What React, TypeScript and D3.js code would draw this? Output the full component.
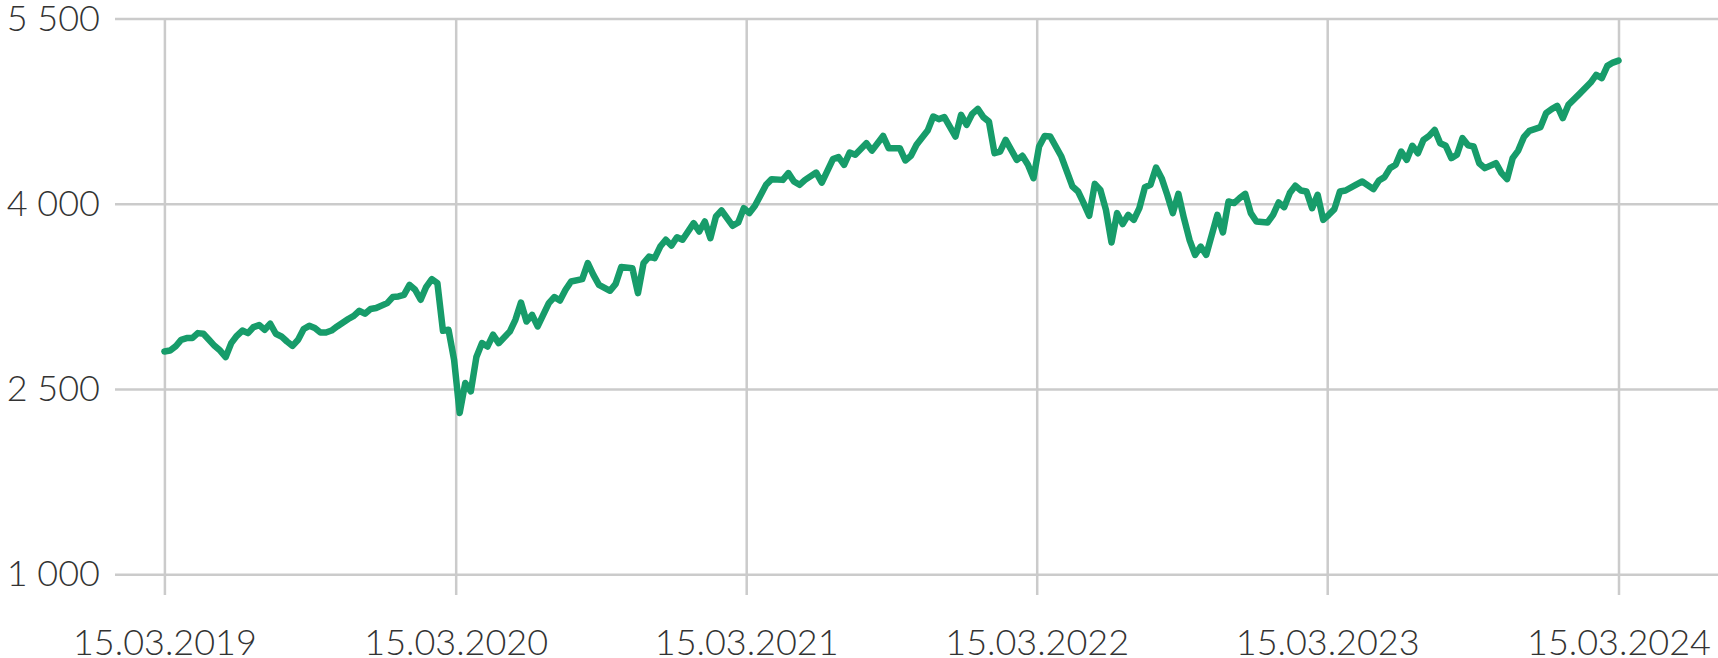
import { useEffect, useRef } from "react";
import * as d3 from "d3";

// Weekly closes. weekNo = weeks after 15.03.2019.
const weekNo = [
  0, 1, 2, 3, 4, 5, 6, 7, 8, 9, 10, 11, 12, 13, 14, 15, 16, 17, 18, 19, 20,
  21, 22, 23, 24, 25, 26, 27, 28, 29, 30, 31, 33, 34, 35, 36, 37, 38, 40, 41,
  42, 43, 44, 45, 46, 47, 48, 49, 50, 51, 52, 53, 54, 55, 56, 57, 58, 59, 60,
  62, 63, 64, 65, 66, 67, 69, 70, 71, 72, 73, 75, 76, 77, 78, 80, 81, 82, 84,
  85, 86, 87, 88, 89, 90, 91, 92, 93, 95, 96, 97, 98, 99, 100, 102, 103, 104,
  105, 106, 108, 109, 111, 112, 113, 114, 115, 117, 118, 120, 121, 122, 123,
  124, 126, 127, 129, 130, 132, 133, 134, 135, 137, 138, 139, 140, 142, 143,
  144, 145, 146, 147, 148, 149, 150, 151, 152, 153, 154, 155, 156, 157, 158,
  159, 161, 162, 163, 164, 165, 166, 167, 168, 169, 170, 171, 172, 173, 174,
  175, 176, 177, 178, 179, 180, 181, 182, 183, 184, 185, 186, 187, 189, 190,
  191, 192, 193, 194, 195, 196, 198, 199, 200, 201, 202, 203, 204, 205, 206,
  207, 208, 209, 210, 211, 212, 214, 215, 217, 218, 219, 220, 221, 222, 223,
  224, 225, 226, 227, 228, 229, 230, 231, 232, 233, 234, 235, 236, 237, 239,
  240, 241, 242, 243, 244, 245, 247, 248, 249, 250, 251, 252, 254, 256, 257,
  258, 259, 260, 261,
];

const closes = [
  2804, 2812, 2845, 2899, 2913, 2913, 2953, 2948, 2899, 2850, 2812, 2759, 2872,
  2931, 2974, 2953, 3002, 3018, 2980, 3029, 2948, 2926, 2885, 2850, 2899, 2986,
  3012, 2994, 2958, 2958, 2974, 3007, 3067, 3093, 3134, 3110, 3148, 3156, 3196,
  3245, 3250, 3263, 3344, 3304, 3223, 3328, 3390, 3358, 2972, 2980, 2737, 2306,
  2549, 2481, 2760, 2872, 2845, 2940, 2872, 2966, 3061, 3201, 3047, 3101, 3007,
  3196, 3245, 3217, 3304, 3371, 3390, 3520, 3425, 3344, 3296, 3352, 3488, 3479,
  3277, 3520, 3573, 3560, 3654, 3709, 3662, 3729, 3709, 3844, 3776, 3857, 3722,
  3897, 3946, 3822, 3849, 3965, 3925, 3984, 4154, 4200, 4194, 4249, 4181, 4154,
  4194, 4253, 4172, 4362, 4378, 4316, 4415, 4397, 4491, 4431, 4550, 4451, 4451,
  4351, 4389, 4478, 4593, 4707, 4686, 4702, 4545, 4720, 4640, 4729, 4769, 4702,
  4666, 4410, 4423, 4518, 4437, 4356, 4389, 4316, 4208, 4464, 4550, 4545, 4383,
  4261, 4140, 4100, 4006, 3903, 4162, 4113, 3951, 3687, 3925, 3836, 3911, 3870,
  3965, 4135, 4154, 4294, 4208, 4073, 3925, 4081, 3884, 3709, 3587, 3654, 3587,
  3911, 3768, 4019, 4006, 4046, 4081, 3925, 3857, 3849, 3911, 4011, 3973, 4087,
  4146, 4108, 4100, 3965, 4073, 3870, 3911, 3957, 4100, 4108, 4158, 4181, 4119,
  4189, 4216, 4289, 4316, 4423, 4356, 4470, 4410, 4518, 4550, 4599, 4491, 4470,
  4370, 4397, 4532, 4474, 4464, 4329, 4289, 4329, 4249, 4200, 4370, 4431, 4540,
  4591, 4621, 4734, 4767, 4793, 4694, 4801, 4890, 4982, 5044, 5018, 5117, 5144,
  5160,
];

const yTicks = [1000, 2500, 4000, 5500];
const xTickLabels = [
  "15.03.2019",
  "15.03.2020",
  "15.03.2021",
  "15.03.2022",
  "15.03.2023",
  "15.03.2024",
];

export default function App() {
  const svgRef = useRef<SVGSVGElement>(null);

  useEffect(() => {
    const svg = d3.select(svgRef.current);
    svg.selectAll("*").remove();

    const width = 1718;
    const height = 658;
    const margin = { top: 18.6, left: 115, bottom: 574.3, axisY: 595 };

    const parse = d3.timeParse("%d.%m.%Y");
    const start = parse(xTickLabels[0]) as Date;
    const tickDates = xTickLabels.map((s) => parse(s) as Date);
    const dates = weekNo.map((w) => d3.timeDay.offset(start, w * 7));

    const x = d3
      .scaleTime()
      .domain([tickDates[0], tickDates[tickDates.length - 1]])
      .range([164.4, 1618.5]);

    const y = d3
      .scaleLinear()
      .domain([1000, 5500])
      .range([margin.bottom, margin.top]);

    const fmt = d3.formatLocale({
      decimal: ",",
      thousands: " ",
      grouping: [3],
      currency: ["", ""],
    }).format(",");

    const gridColor = "#cbcbcb";
    const textColor = "#333";

    // horizontal grid + y labels
    const yAxis = svg
      .append("g")
      .attr("transform", `translate(${margin.left},0)`)
      .call(
        d3
          .axisLeft(y)
          .tickValues(yTicks)
          .tickSize(-(width - margin.left))
          .tickPadding(15)
          .tickFormat((d) => fmt(d as number))
      );
    yAxis.select(".domain").remove();
    yAxis.selectAll(".tick line").attr("stroke", gridColor).attr("stroke-width", 2.5);
    yAxis
      .selectAll(".tick text")
      .attr("fill", textColor)
      .style("font-family", "Lato, 'Open Sans', sans-serif")
      .style("font-weight", 300)
      .style("font-size", "36px");

    // vertical grid + x labels
    const xAxis = svg
      .append("g")
      .attr("transform", `translate(0,${margin.axisY})`)
      .call(
        d3
          .axisBottom(x)
          .tickValues(tickDates)
          .tickSize(-(margin.axisY - margin.top))
          .tickPadding(34)
          .tickFormat((d) => d3.timeFormat("%d.%m.%Y")(d as Date))
      );
    xAxis.select(".domain").remove();
    xAxis.selectAll(".tick line").attr("stroke", gridColor).attr("stroke-width", 2.5);
    xAxis
      .selectAll(".tick text")
      .attr("fill", textColor)
      .style("font-family", "Lato, 'Open Sans', sans-serif")
      .style("font-weight", 300)
      .style("font-size", "36px");

    const line = d3
      .line<number>()
      .x((_, i) => x(dates[i]))
      .y((d) => y(d));

    svg
      .append("path")
      .datum(closes)
      .attr("d", line)
      .attr("fill", "none")
      .attr("stroke", "#179c6a")
      .attr("stroke-width", 6.5)
      .attr("stroke-linejoin", "round")
      .attr("stroke-linecap", "round");

    svg.attr("width", width).attr("height", height);
  }, []);

  return (
    <svg
      ref={svgRef}
      style={{ position: "absolute", top: 0, left: 0, background: "#fff" }}
    />
  );
}
